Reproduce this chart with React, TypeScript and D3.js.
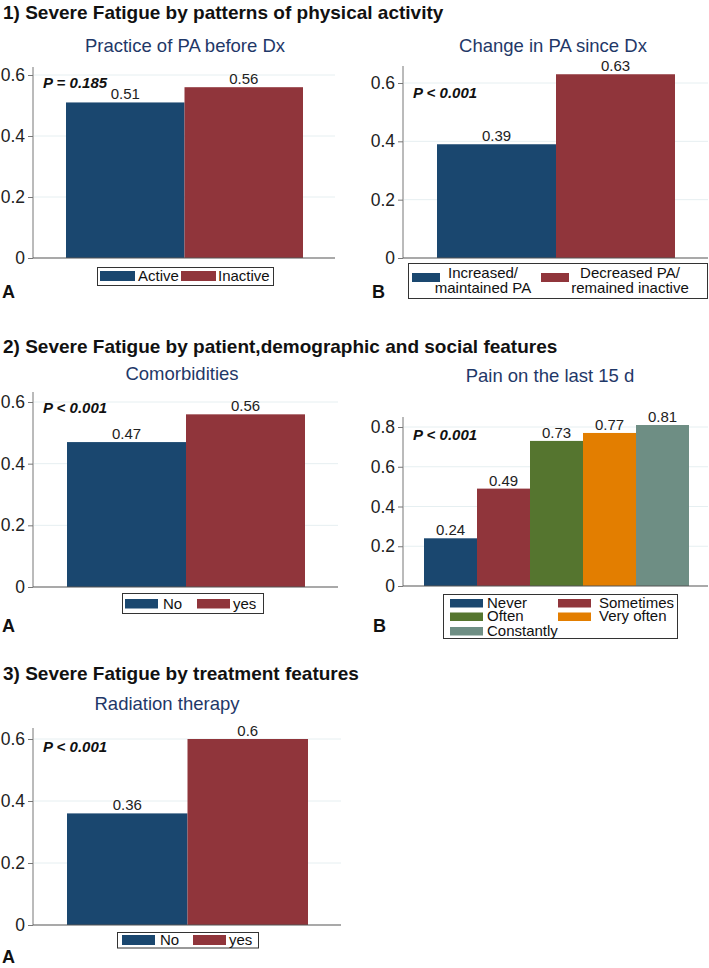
import React, { useEffect, useRef } from 'react';
import * as d3 from 'd3';

// ---- data ----
const sectionTitles = [
  '1) Severe Fatigue by patterns of physical activity',
  '2) Severe Fatigue by patient,demographic and social features',
  '3) Severe Fatigue by treatment features',
];

const paBeforeLabels = ['Active', 'Inactive'];
const paBeforeValues = [0.51, 0.56];

const paChangeLabels = ['Increased/\nmaintained PA', 'Decreased PA/\nremained inactive'];
const paChangeValues = [0.39, 0.63];

const comorbLabels = ['No', 'yes'];
const comorbValues = [0.47, 0.56];

const painLabels = ['Never', 'Sometimes', 'Often', 'Very often', 'Constantly'];
const painValues = [0.24, 0.49, 0.73, 0.77, 0.81];

const radioLabels = ['No', 'yes'];
const radioValues = [0.36, 0.6];

const ticksTo06 = [0, 0.2, 0.4, 0.6];
const ticksTo08 = [0, 0.2, 0.4, 0.6, 0.8];

const subtitles = [
  'Practice of PA before Dx',
  'Change in PA since Dx',
  'Comorbidities',
  'Pain on the last 15 d',
  'Radiation therapy',
];
const pLabels = ['P = 0.185', 'P < 0.001', 'P < 0.001', 'P < 0.001', 'P < 0.001'];

const palette = ['#1a476f', '#90353b', '#55752f', '#e37e00', '#6e8e84'];

const FONT = '"Liberation Sans", Arial, Helvetica, sans-serif';
const WIDTH = 709;
const HEIGHT = 968;

// layout per panel (pixel positions only)
const panels = [
  {
    labels: paBeforeLabels, values: paBeforeValues, ticks: ticksTo06, subtitle: subtitles[0], p: pLabels[0], letter: 'A',
    x0: 33, x1: 335, yBase: 258, yTop: 75, axisTop: 67, barL: 66, barR: 303,
    subX: 185, subY: 52, pX: 43, pY: 88, letterX: 2, letterY: 298,
    legend: { box: [97, 267, 176, 18], swX: [100, 181], txX: [138, 218], rowY: [271], swW: 35, swH: 10, center: false },
  },
  {
    labels: paChangeLabels, values: paChangeValues, ticks: ticksTo06, subtitle: subtitles[1], p: pLabels[1], letter: 'B',
    x0: 403, x1: 708, yBase: 258, yTop: 83, axisTop: 66, barL: 437, barR: 675,
    subX: 553, subY: 52, pX: 413, pY: 98, letterX: 372, letterY: 298,
    legend: { box: [408, 263, 299, 35], swX: [412, 541], txX: [483, 630], rowY: [273], swW: 28, swH: 9, center: true },
  },
  {
    labels: comorbLabels, values: comorbValues, ticks: ticksTo06, subtitle: subtitles[2], p: pLabels[2], letter: 'A',
    x0: 33, x1: 338, yBase: 587, yTop: 402, axisTop: 392, barL: 67, barR: 305,
    subX: 182, subY: 380, pX: 43, pY: 413, letterX: 2, letterY: 632,
    legend: { box: [122, 593, 141, 20], swX: [125, 197], txX: [163, 233], rowY: [599], swW: 33, swH: 9.5, center: false },
  },
  {
    labels: painLabels, values: painValues, ticks: ticksTo08, subtitle: subtitles[3], p: pLabels[3], letter: 'B',
    x0: 403, x1: 708, yBase: 586, yTop: 427, axisTop: 417, barL: 424, barR: 689,
    subX: 550, subY: 382, pX: 413, pY: 440, letterX: 373, letterY: 632,
    legend: { box: [443, 594, 234, 44], swX: [450, 558], txX: [487, 599], rowY: [599, 612.5, 627], swW: 33, swH: 8.5, center: false },
  },
  {
    labels: radioLabels, values: radioValues, ticks: ticksTo06, subtitle: subtitles[4], p: pLabels[4], letter: 'A',
    x0: 33, x1: 341, yBase: 925, yTop: 739, axisTop: 728, barL: 67, barR: 308,
    subX: 167, subY: 710, pX: 43, pY: 752, letterX: 2, letterY: 963,
    legend: { box: [117, 932, 141, 15.5], swX: [122, 193], txX: [160, 229], rowY: [935], swW: 33, swH: 10, center: false },
  },
];

const titleY = [19, 353, 680];

const App: React.FC = () => {
  const svgRef = useRef<SVGSVGElement>(null);

  useEffect(() => {
    if (!svgRef.current) return;
    const svg = d3.select(svgRef.current);
    svg.selectAll('*').remove();

    svg.append('rect').attr('width', WIDTH).attr('height', HEIGHT).attr('fill', '#fff');

    // section titles
    sectionTitles.forEach((t, i) => {
      svg.append('text')
        .attr('x', 3)
        .attr('y', titleY[i])
        .style('font-family', FONT)
        .style('font-size', '19px')
        .style('font-weight', 'bold')
        .style('fill', '#111')
        .text(t);
    });

    panels.forEach(cfg => {
      const g = svg.append('g');
      const maxTick = cfg.ticks[cfg.ticks.length - 1];

      const y = d3.scaleLinear().domain([0, maxTick]).range([cfg.yBase, cfg.yTop]);
      const x = d3.scaleBand<string>().domain(cfg.labels).range([cfg.barL, cfg.barR]).padding(0);

      // subtitle
      g.append('text')
        .attr('x', cfg.subX)
        .attr('y', cfg.subY)
        .attr('text-anchor', 'middle')
        .style('font-family', FONT)
        .style('font-size', '18.5px')
        .style('fill', '#1f3868')
        .text(cfg.subtitle);

      // grid lines
      g.selectAll('.grid')
        .data(cfg.ticks.filter(t => t > 0))
        .enter().append('line')
        .attr('x1', cfg.x0 + 1)
        .attr('x2', cfg.x1)
        .attr('y1', d => y(d))
        .attr('y2', d => y(d))
        .attr('stroke', '#e6eff1')
        .attr('stroke-width', 1);

      // bars
      g.selectAll('.bar')
        .data(cfg.values)
        .enter().append('rect')
        .attr('x', (d, i) => x(cfg.labels[i])!)
        .attr('y', d => y(d))
        .attr('width', x.bandwidth())
        .attr('height', d => cfg.yBase - y(d))
        .attr('fill', (d, i) => palette[i]);

      // value labels
      g.selectAll('.bar-label')
        .data(cfg.values)
        .enter().append('text')
        .attr('x', (d, i) => x(cfg.labels[i])! + x.bandwidth() / 2)
        .attr('y', d => y(d) - 3)
        .attr('text-anchor', 'middle')
        .style('font-family', FONT)
        .style('font-size', '15px')
        .style('fill', '#222')
        .text(d => String(d));

      // y axis
      const yAxis = g.append('g')
        .attr('transform', `translate(${cfg.x0},0)`)
        .call(d3.axisLeft(y).tickValues(cfg.ticks).tickSize(5).tickPadding(3).tickFormat(d => String(d)));
      yAxis.select('.domain').remove();
      yAxis.selectAll('line').attr('stroke', '#777');
      yAxis.selectAll('text')
        .style('font-family', FONT)
        .style('font-size', '17.5px')
        .style('fill', '#222');

      g.append('line')
        .attr('x1', cfg.x0).attr('x2', cfg.x0)
        .attr('y1', cfg.axisTop).attr('y2', cfg.yBase)
        .attr('stroke', '#777').attr('stroke-width', 1);

      // x axis baseline
      g.append('line')
        .attr('x1', cfg.x0).attr('x2', cfg.x1)
        .attr('y1', cfg.yBase).attr('y2', cfg.yBase)
        .attr('stroke', '#555').attr('stroke-width', 1.2);

      // P value
      g.append('text')
        .attr('x', cfg.pX)
        .attr('y', cfg.pY)
        .style('font-family', FONT)
        .style('font-size', '15px')
        .style('font-weight', 'bold')
        .style('font-style', 'italic')
        .style('fill', '#111')
        .text(cfg.p);

      // legend
      const lg = cfg.legend;
      g.append('rect')
        .attr('x', lg.box[0] + 0.5)
        .attr('y', lg.box[1] + 0.5)
        .attr('width', lg.box[2])
        .attr('height', lg.box[3])
        .attr('fill', '#fff')
        .attr('stroke', '#333')
        .attr('stroke-width', 1);

      const ncol = lg.swX.length;
      cfg.labels.forEach((lab, i) => {
        const col = i % ncol;
        const row = Math.floor(i / ncol);
        const sy = lg.rowY[row];
        g.append('rect')
          .attr('x', lg.swX[col])
          .attr('y', sy)
          .attr('width', lg.swW)
          .attr('height', lg.swH)
          .attr('fill', palette[i]);

        const lines = lab.split('\n');
        const t = g.append('text')
          .attr('text-anchor', lg.center ? 'middle' : 'start')
          .style('font-family', FONT)
          .style('font-size', '15px')
          .style('fill', '#111');
        if (lines.length > 1) {
          lines.forEach((ln, j) => {
            t.append('tspan')
              .attr('x', lg.txX[col])
              .attr('y', sy + lg.swH - 4 + j * 15)
              .text(ln);
          });
        } else {
          t.attr('x', lg.txX[col]).attr('y', sy + lg.swH).text(lab);
        }
      });

      // panel letter
      g.append('text')
        .attr('x', cfg.letterX)
        .attr('y', cfg.letterY)
        .style('font-family', FONT)
        .style('font-size', '18px')
        .style('font-weight', 'bold')
        .style('fill', '#111')
        .text(cfg.letter);
    });
  }, []);

  return (
    <svg
      ref={svgRef}
      width={WIDTH}
      height={HEIGHT}
      style={{ position: 'absolute', left: 0, top: 0, background: '#fff' }}
    />
  );
};

export default App;
